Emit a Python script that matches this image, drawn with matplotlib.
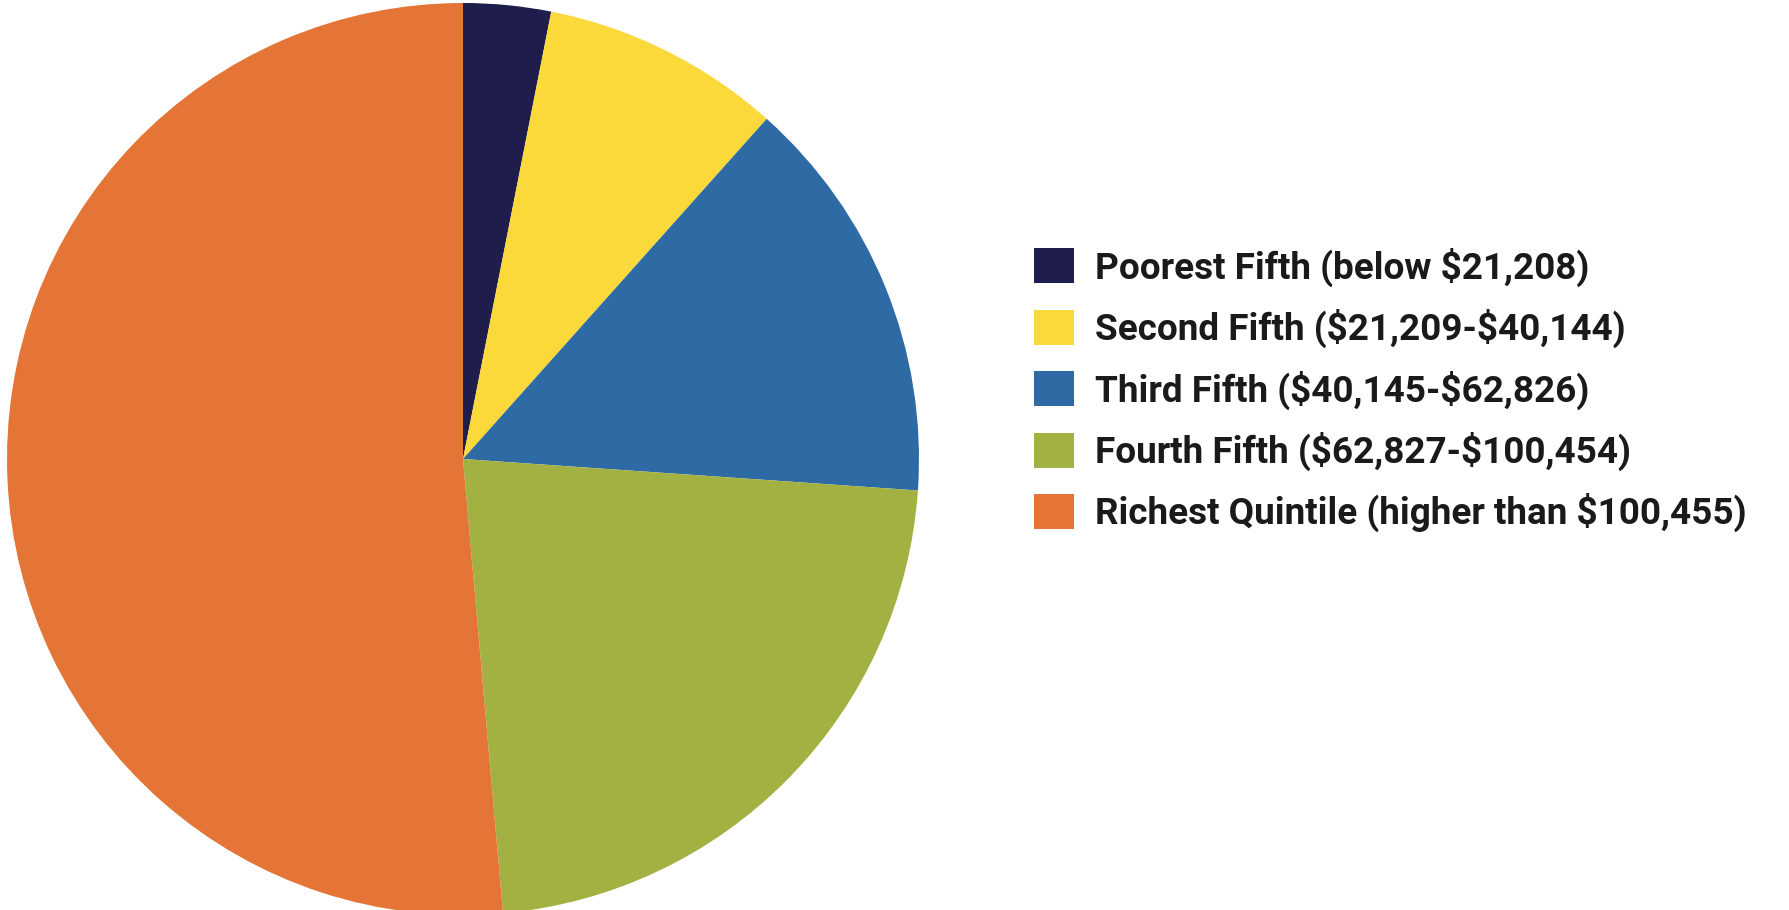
import matplotlib
matplotlib.use('Agg')
import matplotlib.pyplot as plt

# income share by quintile (percent of total)
labels = [r'Poorest Fifth (below \$21,208)',
          r'Second Fifth (\$21,209-\$40,144)',
          r'Third Fifth (\$40,145-\$62,826)',
          r'Fourth Fifth (\$62,827-\$100,454)',
          r'Richest Quintile (higher than \$100,455)']
shares = [3.1, 8.5, 14.5, 22.5, 51.4]
colors = ['#1f1d4b', '#fcd93a', '#2e6aa4', '#a3b142', '#e47536']

fig = plt.figure(figsize=(17.89, 9.10), dpi=100)
ax = fig.add_axes([7/1789, -5/910, 912/1789, 912/910])

wedges, _ = ax.pie(shares, colors=colors, startangle=90, counterclock=False,
                   radius=1, wedgeprops=dict(linewidth=0))
ax.set_xlim(-1, 1)
ax.set_ylim(-1, 1)
ax.set_aspect('equal')
ax.axis('off')

fig.legend(wedges, labels, loc='center left', bbox_to_anchor=(0.5675, 0.5715),
           frameon=False, borderpad=0, handlelength=1.09, handleheight=1.09,
           handletextpad=0.57, labelspacing=0.6,
           prop=dict(family=['Roboto', 'Open Sans'], weight='bold', size=26.6),
           labelcolor='#1a1a1a')

plt.savefig('out.png', dpi=100)
